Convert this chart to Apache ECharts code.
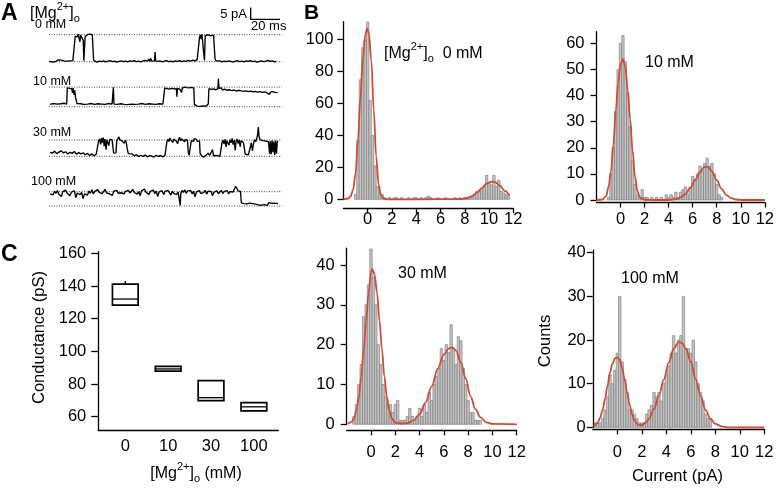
<!DOCTYPE html>
<html><head><meta charset="utf-8">
<script src="https://cdn.jsdelivr.net/npm/echarts@6/dist/echarts.min.js"></script>
<style>html,body{margin:0;padding:0;background:#fff}#c{width:777px;height:491px}</style>
</head><body><div id="c"></div>
<script>
// ---------------- DATA ----------------
// Panel A: single-channel traces, [time (ms), current (pA)]
const traceLabels = ['0 mM', '10 mM', '30 mM', '100 mM'];
const openLevels = [10.2, 7.4, 6.15, 5.4];
const trace0 = [[0.7,0.1],[2,0.4],[3,-0.1],[4,0.3],[5,0.0],[6,0.5],[7,0.7],[8,0.4],[9,0.6],[10,0.2],[11,0.3],[12,-0.1],[13,0.2],[14,0.0],[15,0.3],[16,0.1],[17,0.4],[18.2,0.2],
[18.6,9.6],[19.3,10.2],[20,9.4],[20.6,10.4],[21.2,9.8],[21.8,7.5],[22.3,10.1],[23,9.7],[23.6,10.3],[24.1,8],[24.5,0.4],[25.0,0.3],[25.4,9.5],[26,10.2],[26.6,9.7],[27.2,10.3],[28,9.9],[28.8,10.4],[29.5,9.8],[30.3,10.1],[30.9,9.6],[31.2,0.5],
[32,0.1],[33.5,-0.2],[35,0.2],[36.5,0],[38,0.3],[39.5,-0.1],[41,0.2],[42.5,0.4],[44,0],[45.5,0.2],[47,-0.2],[48.5,0.1],[50,0.3],[51.5,0],[53,0.2],[54.5,-0.1],[56,0.3],[57.5,0.1],[59,0.4],[60.5,0],[62,0.2],[63.5,-0.1],[65,0.3],[66.5,0.5],[68,0.2],[69,1.0],[69.6,0.1],[70.3,1.2],[71,0.2],[72,0.4],[72.8,0.3],[73.2,3.6],[73.6,0.3],[75,0.1],[76.5,0.3],[78,-0.1],[79.5,0.2],[81,0.4],[82.5,0],[84,0.2],[85.5,-0.1],[87,0.3],[88.5,0.1],[90,0.4],[91.5,0],[93,0.3],[94.5,0.1],[96,0.5],[97.5,0.2],[99,0.6],[100.5,0.3],[102,0.8],[102.8,0.5],
[103.2,1],[103.6,9.2],[104.2,10.1],[104.8,8.5],[105.3,10.3],[106,9.6],[106.5,3],[107,0.5],[107.5,9.8],[108.2,10.2],[108.8,9.3],[109.4,10.1],[110,9.5],[110.6,10.2],[111.2,9.8],[111.8,10.3],[112.5,9.6],[113.2,10],[113.8,9.4],[114.2,1.2],[114.8,0.3],
[116,0.1],[117.5,0.3],[119,-0.1],[120.5,0.2],[122,0],[123.5,0.3],[125,0.1],[126.5,-0.2],[128,0.2],[129.5,0.4],[131,0],[132.5,0.2],[134,-0.1],[135.5,0.3],[137,0.1],[138.5,0.4],[140,0],[141.5,0.2],[143,-0.2],[144.5,0.1],[146,0.3],[147.5,0],[149,0.2],[150.5,0.5],[152,0.1],[153.5,0.3],[155,-0.1],[156,0.2]];
const trace10 = [[1.4,0.9],[2.6,0.6],[3.8,1.2],[5,0.7],[6.2,1.0],[7.4,0.5],[8.6,1.1],[9.8,0.8],[11,1.3],[12.2,0.7],[12.8,1.0],[13.2,7.1],[14,7.4],[14.8,6.9],[15.5,7.2],[16.2,6.8],[16.8,5.2],[17.2,7],[17.8,4.5],[18.3,6.2],[18.8,3.5],[19.3,2.5],[19.8,1.2],[21,0.7],[22.2,1.1],[23.4,0.5],[24.6,0.9],[25.8,0.4],[27,1.0],[28.2,0.6],[29.4,1.2],[30.6,0.7],[31.8,0.9],[33,0.4],[34.2,1.1],[35.4,0.6],[36.6,1.0],[37.8,0.5],[39,0.9],[40.2,0.7],[41.4,1.2],[42.6,0.6],[43.8,1.0],[44.4,0.8],[44.7,7.3],[45.1,1.0],[46.2,0.5],[47.4,0.9],[48.6,0.4],[49.8,1.1],[51,0.6],[52.2,0.9],[53.4,0.3],[54.6,0.8],[55.8,0.5],[57,1.0],[58.2,0.6],[59.4,0.9],[60.6,0.4],[61.8,1.0],[63,0.7],[64.2,1.2],[65.4,0.6],[66.6,0.9],[67.8,0.5],[69,1.1],[70.2,0.7],[71.4,1.0],[72.6,0.4],[73.8,0.9],[75,0.6],[76.2,1.1],[77.4,0.7],[78.6,1.0],[79.4,0.8],[79.8,7.0],[80.6,7.4],[81.4,6.8],[82.2,7.2],[83,6.6],[83.8,7.3],[84.6,6.9],[85.4,7.5],[86.2,6.7],[87,7.1],[87.8,6.8],[88.1,3.8],[88.5,6.9],[89.3,7.3],[90.1,6.6],[90.9,7.2],[91.4,5.4],[91.8,7.0],[92.6,6.7],[93.4,7.4],[94.2,6.8],[95,7.2],[95.8,6.6],[96.6,7.1],[97.4,6.9],[98.2,7.3],[99,6.7],[99.7,7.0],[100.1,0.9],[101,0.5],[102,0.2],[103,0.6],[104,0.1],[105,0.5],[106,0.3],[107,0.7],[108,0.2],[109.2,0.5],[109.6,1.0],[110,6.8],[110.8,7.3],[111.6,6.5],[112.4,7.1],[113.2,6.7],[114,7.2],[114.8,6.4],[115.6,7.0],[116.2,6.8],[116.5,10.5],[116.9,6.9],[117.7,6.5],[118.5,7.1],[119.3,6.3],[120.1,6.9],[120.9,6.6],[121.7,7.0],[122.5,6.2],[123.3,6.8],[124.1,6.4],[124.9,6.9],[125.7,6.1],[126.5,6.7],[127.3,6.3],[128.1,6.6],[128.9,5.9],[129.7,6.5],[130.5,6.2],[131.3,6.7],[132.1,6.0],[132.9,6.4],[133.7,5.8],[134.5,6.3],[135.3,6.0],[136.1,6.5],[136.9,5.7],[137.7,6.2],[138.5,5.9],[139.3,6.4],[140.1,5.6],[140.9,6.1],[141.7,5.8],[142.5,6.3],[143.3,5.5],[144.1,6.0],[144.9,5.7],[145.7,6.2],[146.5,5.4],[147.3,5.9],[148.1,5.6],[148.9,6.1],[149.7,5.3],[150.5,5.8],[151.3,4.6],[152.1,5.5],[152.9,5.1],[153.7,5.7],[154.5,5.0],[155.3,5.4],[156.1,4.9],[157,5.3]];
const trace30 = [[1.4,1.5],[3,1.2],[4.5,1.9],[6,1.0],[7.5,1.6],[9,2.1],[10.5,1.3],[12,1.7],[13.5,0.9],[15,1.5],[16.5,1.1],[18,1.8],[19.5,0.8],[21,1.4],[22.5,0.9],[24,1.3],[25.5,0.6],[27,1.1],[28.5,0.3],[30,0.9],[31.5,0.2],[33,0.8],[34,1.2],
[34.6,5.8],[35.3,6.6],[36,4.5],[36.6,6.9],[37.2,5.2],[37.8,7.1],[38.4,3.8],[39,6.5],[39.7,2.5],[40.3,6.2],[41,6.8],[41.6,4],[42.2,6.4],[43,5.7],[43.8,6.3],[44.5,3],[44.9,1.2],[45.6,0.8],[46.5,1.3],
[47,5.9],[47.8,6.6],[48.5,7.3],[49.2,6.2],[50,6.9],[50.7,5.8],[51.4,6.5],[52.1,4.9],[52.8,6],[53.5,5.2],[54.2,2.8],[54.9,1.0],
[56,0.5],[57.5,0.9],[59,0.2],[60.5,0.6],[62,-0.1],[63.5,0.4],[65,0],[66.5,0.5],[68,-0.2],[69.5,0.3],[71,0.1],[72.5,-0.3],[74,0.4],[75.5,0],[77,0.3],[78.5,-0.2],[80,0.4],[80.8,0.6],
[81.3,5.5],[82,6.4],[82.7,5.6],[83.4,6.9],[84,6.1],[84.7,6.7],[85.4,5.3],[86,6.5],[86.7,7.1],[87.4,5.9],[88,6.6],[88.7,4.8],[89.3,6.3],[90,7.2],[90.7,5.8],[91.4,6.6],[92,6.1],[92.7,6.9],[93.4,5.5],[94,6.4],[94.7,6.8],[95.4,5.9],[95.9,1.5],[96.5,0.4],[97.5,0.8],[98,5.9],[98.7,6.5],[99.4,5.6],[100.1,6.7],[100.8,6],[101.5,6.4],[102.2,5.5],[102.9,6.2],[103.6,5.8],[104,1.2],
[105,0.2],[106.5,-0.3],[108,0.4],[109.5,1.2],[110.5,0.3],[111.5,-0.4],[112.5,2.5],[113.2,0.2],[114.5,-0.2],[116,0.3],[117.5,-0.1],[118.5,0.5],
[119,5.2],[119.7,6.1],[120.4,4.6],[121.1,6.4],[121.8,3.5],[122.4,5.9],[123.1,6.6],[123.8,4.2],[124.5,6.3],[125.2,5.1],[125.9,6.8],[126.6,4.4],[127.3,6.1],[128,2.2],[128.6,5.7],[129.3,6.5],[130,4.8],[130.7,6.2],[131.4,3.6],[132,5.9],[132.8,6.4],[133.6,5.2],[134.3,3],[134.8,0.8],
[135.8,0.2],[137,0.6],[138,0.1],[138.4,3.5],[139,5.2],[139.8,2],[140.5,4.8],[141.2,6.3],[142,5.5],[142.8,6.8],[143.4,8.5],[143.8,11],[144.3,7.4],[145,6.3],[146,6.6],[147,5.9],[148,6.4],[149,5.7],[150,6.2],[150.8,5.5],[151.5,1],[152,5.8],[152.6,0.8],[153.2,6],[153.8,1.5],[154.4,5.6],[155,0.5],[155.6,5.9],[156.2,1],[156.8,5.5],[157.3,5.8]];
const trace100 = [[1.4,4.6],[2.5,5.3],[3.5,4.2],[4.5,5.6],[5.5,4.8],[6.5,5.9],[7.4,4.4],[8.3,5.1],[9.2,3.6],[10.1,5.4],[11,4.7],[12,6.0],[13,4.9],[14,5.5],[15,3.9],[16,5.2],[17,4.5],[18,5.8],[19,3.2],[20,4.9],[21,5.6],[22,4.3],[23,5.1],[24,2.8],[25,4.6],[26,5.3],[27,4.1],[28,5.7],[29,4.8],[30,6.1],[31,4.6],[32,5.5],[33,4.9],[34,6.2],[35,5.1],[36,5.8],[37,4.7],[38,5.4],[39,6.3],[40,5.0],[41,5.7],[42,4.6],[43,5.3],[44,4.0],[45,5.6],[46,5.1],[47,5.9],[48,4.8],[49,5.4],[50,5.0],[51,5.7],[52,4.6],[53,5.5],[54,5.2],[55,5.9],[56,4.9],[57,5.6],[58,6.3],[59,5.1],[60,5.8],[61,4.5],[62,5.4],[63,3.9],[64,5.7],[65,5.0],[66,6.4],[67,5.2],[68,5.8],[69,4.4],[70,5.5],[71,5.1],[72,6.0],[73,4.7],[74,5.6],[75,3.6],[76,5.3],[77,4.9],[78,5.8],[79,4.3],[80,5.5],[81,4.8],[82,5.9],[83,5.0],[84,4.1],[85,5.6],[86,4.7],[87,5.4],[88,4.4],[89,5.2],[90,4.9],[90.4,0.2],[90.8,4.6],[91.5,5.9],[92.5,5.1],[93.5,6.1],[94.5,4.8],[95.5,5.7],[96.5,5.2],[97.5,5.9],[98.5,4.6],[99.5,5.5],[100.5,3.5],[101.5,5.3],[102.5,5.0],[103.5,5.8],[104.5,4.7],[105.5,5.4],[106.5,5.1],[107.5,5.9],[108.5,4.5],[109.5,5.6],[110.5,4.9],[111.5,5.5],[112.5,3.9],[113.5,5.2],[114.5,4.8],[115.5,5.7],[116.5,4.6],[117.5,5.3],[118.5,5.9],[119.5,4.7],[120.5,5.5],[121.5,5.0],[122.5,5.8],[123.5,4.6],[124.5,5.4],[125.5,6.0],[126.5,5.3],[127.5,6.4],[128.3,7.4],[129.2,6.6],[130,5.7],[130.8,6.3],[131.6,5.5],[132.2,1.2],[132.8,0.6],[134,0.9],[135,0.3],[136,0.8],[137,0.4],[138,1.1],[139,0.5],[140,0.9],[141,0.2],[142,0.7],[143,1.2],[144,0.4],[145,0.8],[146,0.3],[147,1.0],[148,0.5],[149,0.9],[150,0.2],[151,1.3],[152,0.6],[153,1.0],[154,0.4],[155,1.1],[156,0.7],[157.3,0.9]];

// Panel B: histograms (bin width 0.2 pA), first bin centre and counts
const binWidth = 0.2;
const hist0Start = -1.0;
const hist0Counts = [3,37,75,95,100,111,62,40,21,8,4,3,1,0,1,0,1,1,0,1,0,0,1,0,1,1,0,1,0,1,2,1,0,0,1,0,0,1,0,0,0,1,0,1,0,1,0,1,2,3,5,5,6,8,15,10,9,15,8,12,5,4,3,2];
const hist10Start = -1.0;
const hist10Counts = [1,10,20,34,50,60,63,53,41,28,15,6,2,1,4,1,1,0,1,0,1,0,1,0,2,1,2,1,3,1,3,4,5,2,5,9,8,10,13,11,14,16,13,14,10,6,2,1];
const hist30Start = -1.4;
const hist30Counts = [2,5,10,15,27,30,35,44,37,30,20,15,10,7,5,5,3,5,6,1,1,1,2,4,2,1,2,4,2,5,3,8,6,10,12,14,19,16,20,18,25,19,15,22,21,14,10,6,3,3,1,1,1];
const hist100Start = -1.8;
const hist100Counts = [1,1,1,2,4,7,12,10,13,17,30,15,11,8,4,4,3,2,1,1,1,3,4,5,8,7,8,6,10,12,14,17,21,17,20,21,30,18,18,17,20,15,10,8,6,3,2,2];
// Gaussian fit curves, [current (pA), counts]
const fit0 = [[-2,0],[-1.6,0.5],[-1.4,2],[-1.2,6],[-1.0,16],[-0.8,37],[-0.6,64],[-0.4,88],[-0.2,103],[-0.05,107],[0.1,104],[0.3,87],[0.5,56],[0.7,27],[0.9,9],[1.1,2.5],[1.3,0.5],[1.6,0],[4,0],[7.6,0.1],[8.2,0.8],[8.6,2],[9.0,4.2],[9.4,7],[9.8,9.8],[10.2,11.1],[10.5,10.8],[10.9,8.5],[11.3,5.2],[11.7,2.2]];
const fit10 = [[-2,0],[-1.5,0.2],[-1.2,1.5],[-1.0,5],[-0.8,11],[-0.6,21],[-0.4,34],[-0.2,45],[0,52],[0.2,54],[0.4,51],[0.6,42],[0.8,31],[1.0,19],[1.2,9],[1.4,3.5],[1.6,1],[2,0.1],[3,0],[4,0],[4.6,0.3],[5.0,1],[5.4,2.3],[5.8,4.6],[6.2,7.6],[6.6,10.6],[6.9,12.4],[7.1,12.8],[7.3,12.5],[7.6,11],[8.0,7.6],[8.4,4.3],[8.8,1.9],[9.2,0.7],[9.6,0.2],[10.2,0],[12,0]];
const fit30 = [[-1.9,0.1],[-1.6,0.6],[-1.4,1.5],[-1.2,3.5],[-1.0,7],[-0.8,12],[-0.6,19],[-0.4,26],[-0.2,33],[0,38],[0.1,39],[0.3,37.5],[0.5,33],[0.7,26],[0.9,19],[1.1,12],[1.3,7],[1.5,3.5],[1.7,1.5],[2.0,0.4],[2.5,0.2],[3.0,0.3],[3.5,1],[4.0,2.5],[4.5,5.5],[5.0,9.5],[5.5,14],[6.0,17.5],[6.4,19],[6.7,19.3],[7.0,18.5],[7.4,15.5],[7.8,11.5],[8.2,7],[8.6,3.8],[9.0,1.8],[9.5,0.5],[10,0.1],[12,0]];
const fit100 = [[-1.9,0.3],[-1.6,1],[-1.4,2.2],[-1.2,4],[-1.0,6.5],[-0.8,9.5],[-0.6,12.5],[-0.4,14.5],[-0.2,15.8],[0,16],[0.2,15.5],[0.4,13.5],[0.6,11],[0.8,8],[1.0,5.2],[1.2,3],[1.4,1.6],[1.7,0.5],[2.0,0.5],[2.3,1],[2.6,2],[3.0,4.2],[3.4,7.3],[3.8,11],[4.2,14.8],[4.6,18],[5.0,19.5],[5.3,19.3],[5.6,18],[6.0,15],[6.4,11],[6.8,7.2],[7.2,4],[7.6,2],[8.0,0.8],[8.5,0.2],[9,0],[12,0]];
const histXTicks = [0,2,4,6,8,10,12];
const hist0YTicks = [0,20,40,60,80,100];
const hist10YTicks = [0,10,20,30,40,50,60];
const hist30YTicks = [0,10,20,30,40];
const hist100YTicks = [0,10,20,30,40];

// Panel C: conductance box plot
const concCategories = ['0','10','30','100'];
const boxMin    = [128.3, 87.8, 69.8, 63.5];
const boxQ1     = [128.3, 87.8, 69.8, 63.5];
const boxMedian = [132.0, 89.2, 71.6, 66.0];
const boxQ3     = [141.2, 90.8, 82.0, 68.6];
const boxMax    = [143.0, 90.8, 82.0, 68.6];
const condYTicks = [60,80,100,120,140,160];

// ---------------- LAYOUT / STYLE ----------------
const FONT = '"Liberation Sans", Arial, Helvetica, sans-serif';
const RED = '#d24a36';
const grids = [], xAxes = [], yAxes = [], series = [];

// Panel A traces
const traces = [trace0, trace10, trace30, trace100];
const traceZeroY = [61.7, 106.7, 156.3, 206];
const K = 2.65;
traces.forEach((tr, i) => {
  grids.push({left: 48, width: 234, top: traceZeroY[i] - 13 * K, height: 16 * K});
  xAxes.push({gridIndex: i, type: 'value', min: 0, max: 160, show: false});
  yAxes.push({gridIndex: i, type: 'value', min: -3, max: 13, show: false});
  const dotted = {type: 'line', xAxisIndex: i, yAxisIndex: i, showSymbol: false, silent: true,
    lineStyle: {color: '#444', width: 1, type: [1, 1.5]}, z: 1};
  series.push(Object.assign({}, dotted, {data: [[0.7, 0], [160, 0]]}));
  series.push(Object.assign({}, dotted, {data: [[0.7, openLevels[i]], [160, openLevels[i]]]}));
  series.push({type: 'line', xAxisIndex: i, yAxisIndex: i, data: tr, showSymbol: false, clip: false,
    lineStyle: {color: '#000', width: 1.35}, z: 3});
});

// Panel B histograms
const hists = [
  {start: hist0Start, counts: hist0Counts, fit: fit0, yTicks: hist0YTicks, left: 343.4, width: 169.9, zeroY: 199.3, ppc: 1.596, yMax: 111.3, xOff: 9, xMargin: 2.7, yMargin: 10},
  {start: hist10Start, counts: hist10Counts, fit: fit10, yTicks: hist10YTicks, left: 596.5, width: 169.5, zeroY: 200, ppc: 2.61, yMax: 64.5, xOff: 2.5, xMargin: 8.5, yMargin: 12},
  {start: hist30Start, counts: hist30Counts, fit: fit30, yTicks: hist30YTicks, left: 346.7, width: 170, zeroY: 424.3, ppc: 3.983, yMax: 44.2, xOff: 6, xMargin: 13.2, yMargin: 12},
  {start: hist100Start, counts: hist100Counts, fit: fit100, yTicks: hist100YTicks, left: 592.8, width: 171.5, zeroY: 427.3, ppc: 4.365, yMax: 40.6, xOff: 2, xMargin: 14.2, yMargin: 7}
];
const axisLineStyle = {color: '#000', width: 1.3};
const labelStyle = {color: '#000', fontSize: 16.5, fontFamily: FONT};
hists.forEach((h, j) => {
  const g = grids.length;
  grids.push({left: h.left, width: h.width, top: h.zeroY - h.yMax * h.ppc, height: h.yMax * h.ppc});
  xAxes.push({gridIndex: g, type: 'value', min: -2, max: 12, offset: h.xOff,
    axisLine: {show: true, onZero: false, lineStyle: axisLineStyle},
    axisTick: {show: true, customValues: histXTicks, length: 5, lineStyle: axisLineStyle},
    axisLabel: Object.assign({customValues: histXTicks, margin: h.xMargin}, labelStyle),
    splitLine: {show: false}});
  yAxes.push({gridIndex: g, type: 'value', min: 0, max: h.yMax,
    axisLine: {show: true, onZero: false, lineStyle: axisLineStyle},
    axisTick: {show: true, customValues: h.yTicks, length: 6, lineStyle: axisLineStyle},
    axisLabel: Object.assign({customValues: h.yTicks, margin: h.yMargin}, labelStyle),
    splitLine: {show: false}});
  const bars = h.counts.map((c, i) => [h.start + i * binWidth, c]);
  series.push({type: 'custom', xAxisIndex: g, yAxisIndex: g, data: bars, encode: {x: 0, y: 1}, z: 2,
    renderItem: (params, api) => {
      const x = api.value(0), y = api.value(1);
      const p1 = api.coord([x - binWidth / 2, y]);
      const p2 = api.coord([x + binWidth / 2, 0]);
      return {type: 'rect', shape: {x: p1[0], y: p1[1], width: p2[0] - p1[0], height: p2[1] - p1[1]},
        style: {fill: '#c6c6c6', stroke: '#737373', lineWidth: 0.6}};
    }});
  series.push({type: 'line', xAxisIndex: g, yAxisIndex: g, data: h.fit, showSymbol: false, smooth: 0.35,
    smoothMonotone: 'x', clip: false, lineStyle: {color: RED, width: 1.8}, z: 4});
});

// Panel C box plot
const gc = grids.length;
grids.push({left: 98.3, width: 180, top: 251.7, height: 178.3});
xAxes.push({gridIndex: gc, type: 'value', min: -0.63, max: 3.57,
  axisLine: {show: true, onZero: false, lineStyle: axisLineStyle},
  axisTick: {show: false},
  axisLabel: Object.assign({customValues: [0, 1, 2, 3], margin: 7.5, formatter: v => concCategories[Math.round(v)]}, labelStyle),
  splitLine: {show: false}});
yAxes.push({gridIndex: gc, type: 'value', min: 51.8, max: 161,
  axisLine: {show: true, onZero: false, lineStyle: axisLineStyle},
  axisTick: {show: true, customValues: condYTicks, length: 7, lineStyle: axisLineStyle},
  axisLabel: Object.assign({customValues: condYTicks, margin: 12}, labelStyle),
  splitLine: {show: false}});
const BOX_HALF = 0.3;
series.push({type: 'custom', xAxisIndex: gc, yAxisIndex: gc,
  data: concCategories.map((c, i) => [i, boxMin[i], boxQ1[i], boxMedian[i], boxQ3[i], boxMax[i]]),
  encode: {x: 0, y: [1, 2, 3, 4, 5]},
  renderItem: (params, api) => {
    const i = api.value(0);
    const lo = api.coord([i - BOX_HALF, api.value(2)]);
    const hi = api.coord([i + BOX_HALF, api.value(4)]);
    const med = api.coord([i, api.value(3)]);
    const wTop = api.coord([i, api.value(5)]);
    const wBot = api.coord([i, api.value(1)]);
    const st = {stroke: '#000', lineWidth: 1.5};
    return {type: 'group', children: [
      {type: 'rect', shape: {x: lo[0], y: hi[1], width: hi[0] - lo[0], height: lo[1] - hi[1]}, style: {fill: '#fff', stroke: '#000', lineWidth: 1.7}},
      {type: 'line', shape: {x1: lo[0], y1: med[1], x2: hi[0], y2: med[1]}, style: {stroke: '#000', lineWidth: 1.3}},
      {type: 'line', shape: {x1: med[0], y1: hi[1], x2: med[0], y2: wTop[1]}, style: st},
      {type: 'line', shape: {x1: med[0], y1: lo[1], x2: med[0], y2: wBot[1]}, style: st}
    ]};
  }});

// Text annotations
function txt(x, y, text, size, extra) {
  return Object.assign({type: 'text', x: x, y: y, silent: true,
    style: {text: text, font: size + 'px ' + FONT, fill: '#000', align: 'left', verticalAlign: 'middle'}}, extra || {});
}
function mgRich(x, y, tail, align) {
  return {type: 'text', x: x, y: y, silent: true,
    style: {text: '{n|[Mg}{s|2+}{n|]}{o|o}' + (tail ? '{n|' + tail + '}' : ''), align: align || 'left', verticalAlign: 'middle',
      rich: {
        n: {fontSize: 16, fontFamily: FONT, fill: '#000', lineHeight: 26, verticalAlign: 'middle'},
        s: {fontSize: 11, fontFamily: FONT, fill: '#000', lineHeight: 26, verticalAlign: 'top'},
        o: {fontSize: 11, fontFamily: FONT, fill: '#000', lineHeight: 26, verticalAlign: 'bottom', padding: [0, 0, 3, 0]}
      }}};
}
const graphic = [
  txt(1, 14, 'A', 23, {style: {text: 'A', font: 'bold 23px ' + FONT, fill: '#000', verticalAlign: 'middle'}}),
  mgRich(30, 14),
  txt(35, 25, traceLabels[0], 12.5), txt(33, 81.7, traceLabels[1], 12.5),
  txt(33, 133, traceLabels[2], 12.5), txt(31, 182, traceLabels[3], 12.5),
  {type: 'polyline', silent: true, shape: {points: [[250.7, 7.5], [250.7, 19.3], [280, 19.3]]}, style: {stroke: '#000', lineWidth: 1.3, fill: null}},
  txt(247, 14, '5 pA', 13, {style: {text: '5 pA', font: '13px ' + FONT, fill: '#000', align: 'right', verticalAlign: 'middle'}}),
  txt(251, 26.5, '20 ms', 13),
  txt(304, 13, 'B', 21, {style: {text: 'B', font: 'bold 21px ' + FONT, fill: '#000', verticalAlign: 'middle'}}),
  mgRich(384, 54, '  0 mM'),
  txt(645, 62.5, '10 mM', 16), txt(398, 273.5, '30 mM', 16), txt(621, 279, '100 mM', 16),
  txt(545, 341, 'Counts', 16.5, {rotation: Math.PI / 2, style: {text: 'Counts', font: '16.5px ' + FONT, fill: '#000', align: 'center', verticalAlign: 'middle'}}),
  txt(677.5, 476, 'Current (pA)', 16.5, {style: {text: 'Current (pA)', font: '16.5px ' + FONT, fill: '#000', align: 'center', verticalAlign: 'middle'}}),
  txt(1, 255, 'C', 23, {style: {text: 'C', font: 'bold 23px ' + FONT, fill: '#000', verticalAlign: 'middle'}}),
  txt(39, 337.5, 'Conductance (pS)', 16.5, {rotation: Math.PI / 2, style: {text: 'Conductance (pS)', font: '16.5px ' + FONT, fill: '#000', align: 'center', verticalAlign: 'middle'}}),
  mgRich(196, 474, ' (mM)', 'center')
];

const chart = echarts.init(document.getElementById('c'), null, {renderer: 'canvas'});
chart.setOption({
  animation: false,
  backgroundColor: '#fff',
  grid: grids, xAxis: xAxes, yAxis: yAxes, series: series, graphic: graphic
});
</script></body></html>
